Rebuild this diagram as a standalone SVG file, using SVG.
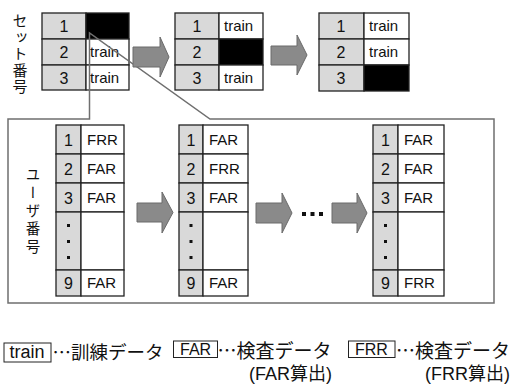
<svg xmlns="http://www.w3.org/2000/svg" width="512" height="388" viewBox="0 0 512 388">
<style>
.bg{fill:#fff}
.g{fill:#d9d9d9;stroke:#222;stroke-width:1.3}
.w{fill:#fff;stroke:#222;stroke-width:1.3}
.b{fill:#000;stroke:#222;stroke-width:1.3}
.num{font-family:"Liberation Sans",Arial,sans-serif;font-size:16px;fill:#111;text-anchor:middle}
.lab{font-family:"Liberation Sans",Arial,sans-serif;font-size:15px;fill:#111}
.arr{fill:#8a8a8a;stroke:#6a6a6a;stroke-width:1}
.call{fill:none;stroke:#6f6f6f;stroke-width:1.5}
.vt{font-family:"Noto Sans CJK JP",sans-serif;writing-mode:vertical-rl;fill:#111}
.leg{font-family:"Liberation Sans","Noto Sans CJK JP",sans-serif;fill:#111}
.jp{font-family:"Noto Sans CJK JP",sans-serif;fill:#111}
.lbox{fill:#fff;stroke:#222;stroke-width:1}
.dot{fill:#111}
</style>
<rect class="bg" width="512" height="388"/>

<text class="vt" x="20" y="13" font-size="15" letter-spacing="1.5">セット番号</text>
<text class="vt" x="33" y="167" font-size="14.5" letter-spacing="3.6">ユーザ番号</text>

<g id="set1">
<rect class="g" x="42" y="13" width="44" height="26"/><rect class="b" x="86" y="13" width="43" height="26"/>
<rect class="g" x="42" y="39" width="44" height="26"/><rect class="w" x="86" y="39" width="43" height="26"/>
<rect class="g" x="42" y="65" width="44" height="25"/><rect class="w" x="86" y="65" width="43" height="25"/>
<text class="num" x="64" y="32">1</text><text class="num" x="64" y="58">2</text><text class="num" x="64" y="84">3</text>
<text class="lab" x="90" y="57">train</text><text class="lab" x="90" y="83">train</text>
</g>

<g id="set2">
<rect class="g" x="175" y="13" width="44" height="26"/><rect class="w" x="219" y="13" width="44" height="26"/>
<rect class="g" x="175" y="39" width="44" height="26"/><rect class="b" x="219" y="39" width="44" height="26"/>
<rect class="g" x="175" y="65" width="44" height="25"/><rect class="w" x="219" y="65" width="44" height="25"/>
<text class="num" x="197" y="32">1</text><text class="num" x="197" y="58">2</text><text class="num" x="197" y="84">3</text>
<text class="lab" x="224" y="31">train</text><text class="lab" x="224" y="83">train</text>
</g>

<g id="set3">
<rect class="g" x="319" y="13" width="45" height="26"/><rect class="w" x="364" y="13" width="45" height="26"/>
<rect class="g" x="319" y="39" width="45" height="26"/><rect class="w" x="364" y="39" width="45" height="26"/>
<rect class="g" x="319" y="65" width="45" height="26"/><rect class="b" x="364" y="65" width="45" height="26"/>
<text class="num" x="341" y="32">1</text><text class="num" x="341" y="58">2</text><text class="num" x="341" y="84">3</text>
<text class="lab" x="369" y="31">train</text><text class="lab" x="369" y="57">train</text>
</g>

<g id="user1">
<rect class="g" x="56" y="125" width="25" height="29"/><rect class="w" x="81" y="125" width="43" height="29"/>
<rect class="g" x="56" y="154" width="25" height="29"/><rect class="w" x="81" y="154" width="43" height="29"/>
<rect class="g" x="56" y="183" width="25" height="29"/><rect class="w" x="81" y="183" width="43" height="29"/>
<rect class="g" x="56" y="212" width="25" height="58"/><rect class="w" x="81" y="212" width="43" height="58"/>
<rect class="g" x="56" y="270" width="25" height="26"/><rect class="w" x="81" y="270" width="43" height="26"/>
<text class="num" x="68.5" y="146">1</text><text class="num" x="68.5" y="175">2</text><text class="num" x="68.5" y="204">3</text><text class="num" x="68.5" y="289">9</text>
<rect class="dot" x="67" y="224" width="3" height="3"/><rect class="dot" x="67" y="240" width="3" height="3"/><rect class="dot" x="67" y="256" width="3" height="3"/>
<text class="lab" x="87" y="145">FRR</text><text class="lab" x="87" y="174">FAR</text><text class="lab" x="87" y="203">FAR</text><text class="lab" x="87" y="288">FAR</text>
</g>

<g id="user2">
<rect class="g" x="179" y="125" width="24" height="29"/><rect class="w" x="203" y="125" width="45" height="29"/>
<rect class="g" x="179" y="154" width="24" height="29"/><rect class="w" x="203" y="154" width="45" height="29"/>
<rect class="g" x="179" y="183" width="24" height="29"/><rect class="w" x="203" y="183" width="45" height="29"/>
<rect class="g" x="179" y="212" width="24" height="58"/><rect class="w" x="203" y="212" width="45" height="58"/>
<rect class="g" x="179" y="270" width="24" height="26"/><rect class="w" x="203" y="270" width="45" height="26"/>
<text class="num" x="191" y="146">1</text><text class="num" x="191" y="175">2</text><text class="num" x="191" y="204">3</text><text class="num" x="191" y="289">9</text>
<rect class="dot" x="189.5" y="224" width="3" height="3"/><rect class="dot" x="189.5" y="240" width="3" height="3"/><rect class="dot" x="189.5" y="256" width="3" height="3"/>
<text class="lab" x="209" y="145">FAR</text><text class="lab" x="209" y="174">FRR</text><text class="lab" x="209" y="203">FAR</text><text class="lab" x="209" y="288">FAR</text>
</g>

<g id="user9">
<rect class="g" x="373" y="125" width="25" height="29"/><rect class="w" x="398" y="125" width="46" height="29"/>
<rect class="g" x="373" y="154" width="25" height="29"/><rect class="w" x="398" y="154" width="46" height="29"/>
<rect class="g" x="373" y="183" width="25" height="29"/><rect class="w" x="398" y="183" width="46" height="29"/>
<rect class="g" x="373" y="212" width="25" height="58"/><rect class="w" x="398" y="212" width="46" height="58"/>
<rect class="g" x="373" y="270" width="25" height="26"/><rect class="w" x="398" y="270" width="46" height="26"/>
<text class="num" x="385.5" y="146">1</text><text class="num" x="385.5" y="175">2</text><text class="num" x="385.5" y="204">3</text><text class="num" x="385.5" y="289">9</text>
<rect class="dot" x="384" y="224" width="3" height="3"/><rect class="dot" x="384" y="240" width="3" height="3"/><rect class="dot" x="384" y="256" width="3" height="3"/>
<text class="lab" x="404" y="145">FAR</text><text class="lab" x="404" y="174">FAR</text><text class="lab" x="404" y="203">FAR</text><text class="lab" x="404" y="288">FRR</text>
</g>

<g id="connectors">
<path class="call" d="M8,119 H89.5 V33 L210,119 H494 V303 H8 Z"/>
<path class="arr" d="M133,47 H160 V37 L169,57 L160,77 V67 H133 Z"/>
<path class="arr" d="M271,46 H297 V35 L307,55 L297,75 V65 H271 Z"/>
<path class="arr" d="M137,203 H162 V192 L173,212.5 L162,233 V222 H137 Z"/>
<path class="arr" d="M256,203 H282 V193 L292,213 L282,233 V223 H256 Z"/>
<path class="arr" d="M332,203 H357 V193 L367,213 L357,233 V223 H332 Z"/>
<rect class="dot" x="302" y="212" width="4" height="4"/><rect class="dot" x="310.5" y="212" width="4" height="4"/><rect class="dot" x="319" y="212" width="4" height="4"/>
</g>

<g id="legend">
<rect class="lbox" x="4" y="343" width="47" height="19"/>
<text class="leg" x="9.5" y="358" font-size="18">train</text>
<text class="jp" x="52.5" y="358.5" font-size="18.5">…訓練データ</text>
<rect class="lbox" x="173.5" y="341" width="44" height="16.5"/>
<text class="leg" x="180" y="355" font-size="16">FAR</text>
<text class="jp" x="217.5" y="357.5" font-size="19">…検査データ</text>
<text class="leg" x="332" y="379.5" font-size="18" text-anchor="end">(FAR算出)</text>
<rect class="lbox" x="348.5" y="341" width="46.5" height="16.5"/>
<text class="leg" x="355" y="355" font-size="16">FRR</text>
<text class="jp" x="396" y="357.5" font-size="19">…検査データ</text>
<text class="leg" x="510" y="379.5" font-size="18" text-anchor="end">(FRR算出)</text>
</g>
</svg>
